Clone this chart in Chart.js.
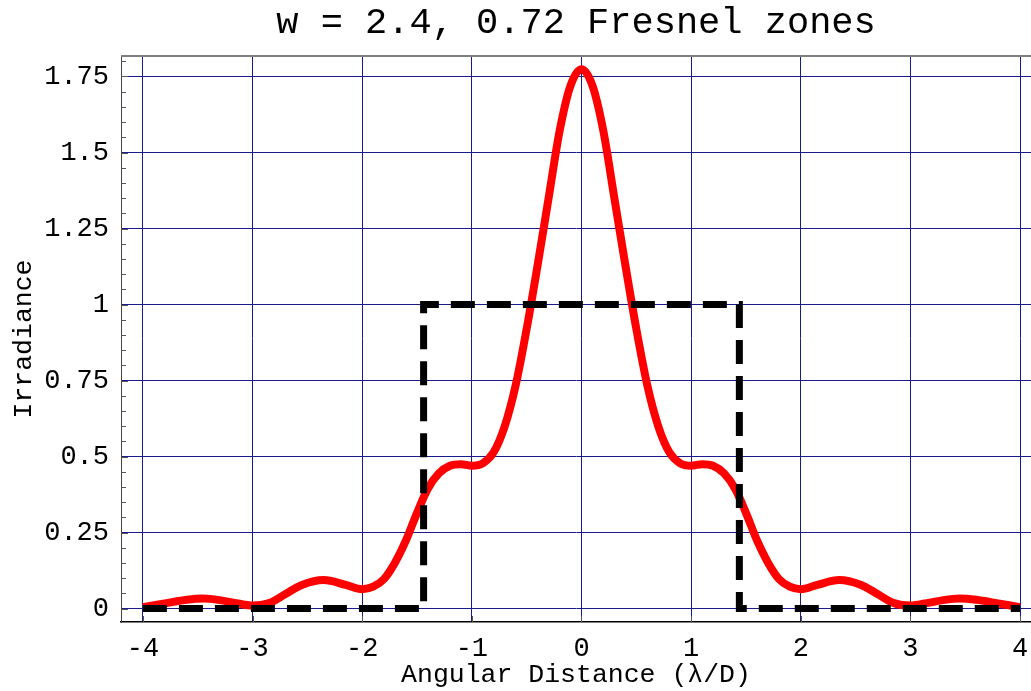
<!DOCTYPE html>
<html lang="en">
<head>
<meta charset="UTF-8">
<title>w = 2.4, 0.72 Fresnel zones</title>
<script src="https://cdn.jsdelivr.net/npm/chart.js"></script>
<style>
  html, body { margin: 0; padding: 0; background: #fff; }
  canvas { display: block; }
</style>
</head>
<body>
<canvas id="fresnelChart" width="1031" height="691"></canvas>
<script>
// diffracted irradiance vs angular distance (lambda/D)
const angle = [-4, -3.8, -3.6, -3.45, -3.3, -3.15, -3, -2.85, -2.7, -2.55, -2.35, -2.15, -2, -1.9, -1.8, -1.7,
  -1.6, -1.5, -1.4, -1.3, -1.2, -1.1, -1, -0.9, -0.8, -0.7, -0.6, -0.5, -0.4, -0.3, -0.2, -0.1, 0,
  0.1, 0.2, 0.3, 0.4, 0.5, 0.6, 0.7, 0.8, 0.9, 1, 1.1, 1.2, 1.3, 1.4, 1.5, 1.6, 1.7, 1.8, 1.9, 2,
  2.15, 2.35, 2.55, 2.7, 2.85, 3, 3.15, 3.3, 3.45, 3.6, 3.8, 4];
const irradiance = [0.005, 0.017, 0.029, 0.033, 0.028, 0.018, 0.010, 0.018, 0.048, 0.078, 0.094, 0.078, 0.064, 0.072, 0.098, 0.152,
  0.225, 0.315, 0.395, 0.445, 0.47, 0.475, 0.47, 0.478, 0.515, 0.60, 0.735, 0.92, 1.13, 1.35, 1.57, 1.72, 1.774,
  1.72, 1.57, 1.35, 1.13, 0.92, 0.735, 0.60, 0.515, 0.478, 0.47, 0.475, 0.47, 0.445, 0.395, 0.315, 0.225, 0.152, 0.098, 0.072, 0.064,
  0.078, 0.094, 0.078, 0.048, 0.018, 0.010, 0.018, 0.028, 0.033, 0.029, 0.017, 0.005];

// geometric-optics profile (unit box)
const boxX = [-4, -1.44, -1.44, 1.44, 1.44, 4];
const boxY = [0, 0, 1, 1, 0, 0];

const xTicks = [-4, -3, -2, -1, 0, 1, 2, 3, 4];
const xTickLabels = ['-4', '-3', '-2', '-1', '0', '1', '2', '3', '4'];
const yTicks = [0, 0.25, 0.5, 0.75, 1, 1.25, 1.5, 1.75];
const yTickLabels = ['0', '0.25', '0.5', '0.75', '1', '1.25', '1.5', '1.75'];

const mono = '"Liberation Mono", "Courier New", monospace';
const gridBlue = '#1a1a8c';

// top edge of the frame plus the small inward tick marks
const frame = {
  id: 'frame',
  beforeDatasetsDraw(chart) {
    const { ctx, chartArea: a, scales: { x, y } } = chart;
    ctx.save();
    ctx.strokeStyle = '#7f7f7f';
    ctx.lineWidth = 2;
    ctx.beginPath();
    ctx.moveTo(a.left, a.top);
    ctx.lineTo(a.right, a.top);
    ctx.stroke();

    ctx.strokeStyle = '#555';
    ctx.lineWidth = 1;
    ctx.beginPath();
    for (let i = 0; i <= 36; i++) {
      const v = i * 0.05;
      const py = Math.round(y.getPixelForValue(v)) + 0.5;
      const len = i % 5 === 0 ? 7 : 5;
      ctx.moveTo(a.left, py);
      ctx.lineTo(a.left + len, py);
    }
    for (const v of xTicks) {
      const px = Math.round(x.getPixelForValue(v)) + 0.5;
      ctx.moveTo(px, a.bottom);
      ctx.lineTo(px, a.bottom - 6);
    }
    ctx.stroke();
    ctx.restore();
  }
};

const ctx = document.getElementById('fresnelChart').getContext('2d');

new Chart(ctx, {
  type: 'scatter',
  data: {
    datasets: [
      {
        label: 'geometric',
        data: boxX.map((v, i) => ({ x: v, y: boxY[i] })),
        showLine: true,
        borderColor: '#000',
        borderWidth: 7,
        borderDash: [24, 12],
        borderCapStyle: 'butt',
        borderJoinStyle: 'miter',
        pointRadius: 0,
        tension: 0,
        order: 0
      },
      {
        label: 'irradiance',
        data: angle.map((v, i) => ({ x: v, y: irradiance[i] })),
        showLine: true,
        borderColor: '#ff0000',
        borderWidth: 8,
        cubicInterpolationMode: 'monotone',
        pointRadius: 0,
        order: 1
      }
    ]
  },
  options: {
    responsive: false,
    animation: false,
    layout: { padding: 0 },
    plugins: {
      legend: { display: false },
      tooltip: { enabled: false },
      title: {
        display: true,
        fullSize: false,
        text: 'w = 2.4, 0.72 Fresnel zones',
        color: '#000',
        font: { family: mono, size: 37, weight: 'normal', lineHeight: 1.2 },
        padding: { top: 1, bottom: 10.6 }
      }
    },
    scales: {
      x: {
        type: 'linear',
        min: -4.2,
        max: 4.1,
        afterBuildTicks: s => { s.ticks = xTicks.map(v => ({ value: v })); },
        afterFit: s => {
          s.height = 69;
          s.paddingLeft = 0;
          s.paddingRight = 0;
        },
        grid: { color: gridBlue, lineWidth: 1, drawTicks: false },
        border: { color: '#000', width: 1.5 },
        ticks: {
          padding: 11,
          color: '#000',
          maxRotation: 0,
          font: { family: mono, size: 27 },
          callback: v => xTickLabels[xTicks.indexOf(v)]
        },
        title: {
          display: true,
          text: 'Angular Distance (λ/D)',
          color: '#000',
          font: { family: mono, size: 26.5, lineHeight: 1.2 },
          padding: { top: 0, bottom: 0 }
        }
      },
      y: {
        type: 'linear',
        min: -0.044,
        max: 1.8174,
        afterBuildTicks: s => { s.ticks = yTicks.map(v => ({ value: v })); },
        afterFit: s => {
          s.width = 121;
          s.paddingTop = 0;
          s.paddingBottom = 0;
        },
        grid: { color: gridBlue, lineWidth: 1, drawTicks: false },
        border: { color: '#444', width: 1 },
        ticks: {
          padding: 12,
          color: '#000',
          font: { family: mono, size: 27 },
          callback: v => yTickLabels[yTicks.indexOf(v)]
        },
        title: {
          display: true,
          text: 'Irradiance',
          color: '#000',
          font: { family: mono, size: 26.5, lineHeight: 1.2 },
          padding: { top: 8, bottom: 0 }
        }
      }
    }
  },
  plugins: [frame]
});
</script>
</body>
</html>
